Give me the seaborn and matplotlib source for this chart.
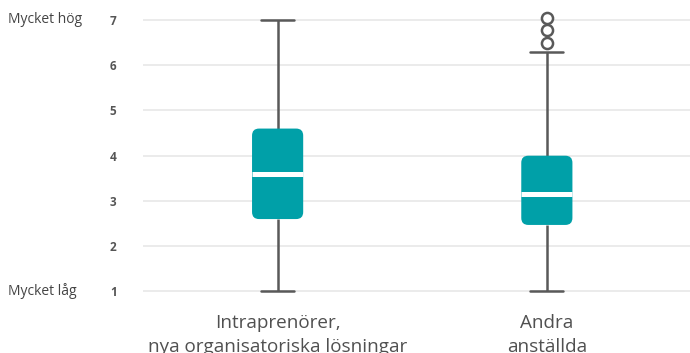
import numpy as np
import pandas as pd
import matplotlib
matplotlib.use("Agg")
import matplotlib.pyplot as plt
import matplotlib.transforms as mtransforms
from matplotlib.patches import FancyBboxPatch
import seaborn as sns

# Values (scale 1-7)
grupper = ["Intraprenörer,\nnya organisatoriska lösningar", "Andra\nanställda"]
min_varde = [1.0, 1.0]
q1 = [2.6, 2.47]
median = [3.6, 3.15]
q3 = [4.6, 4.0]
max_inom = [7.0, 6.3]
avvikare = [[], [6.5, 6.78, 7.05]]

y_ticks = [1, 2, 3, 4, 5, 6, 7]
skala_text = {7: "Mycket hög", 1: "Mycket låg"}

TEAL = "#00A0A8"
LINE = "#595959"

# Build samples whose quartiles (linear interpolation) hit the read values
rows = []
for i, g in enumerate(grupper):
    vals = [min_varde[i]] + [q1[i]] * 4 + [median[i]] * 4 + [q3[i]] * 4 + [max_inom[i]] + avvikare[i]
    for v in vals:
        rows.append({"grupp": g, "varde": v})
df = pd.DataFrame(rows)

sns.set_style("white")
plt.rcParams["font.family"] = ["Open Sans", "DejaVu Sans"]

fig = plt.figure(figsize=(6.9, 3.53), dpi=100)
ax = fig.add_axes([143 / 690, 1 - 300.5 / 353, 560 / 690, 294.1 / 353])

sns.boxplot(
    data=df, x="grupp", y="varde", ax=ax,
    color=TEAL, saturation=1, width=0.19, whis=1.6,
    linecolor=LINE, linewidth=1.8,
    capwidths=0.123,
    boxprops=dict(facecolor=TEAL, edgecolor="none"),
    medianprops=dict(color="white", linewidth=3.6),
    flierprops=dict(marker="o", markersize=8, markerfacecolor="white",
                    markeredgecolor=LINE, markeredgewidth=1.8),
)

ax.set_xlim(-0.5, 1.58)
ax.set_ylim(0.8, 7.3)
ax.set_yticks(y_ticks)
ax.set_xlabel("")
ax.set_ylabel("")
ax.grid(axis="y", color="#e6e6e6", linewidth=1.1)
ax.set_axisbelow(True)
for s in ax.spines.values():
    s.set_visible(False)

# rounded boxes
fig.canvas.draw()
px_x = ax.transData.transform((1, 0))[0] - ax.transData.transform((0, 0))[0]
px_y = ax.transData.transform((0, 1))[1] - ax.transData.transform((0, 0))[1]
r = 7 / px_x
for p in list(ax.patches):
    ext = p.get_path().get_extents()
    fb = FancyBboxPatch((ext.x0, ext.y0), ext.width, ext.height,
                        boxstyle=f"round,pad=0,rounding_size={r}",
                        mutation_aspect=px_x / px_y,
                        facecolor=TEAL, edgecolor="none", zorder=p.get_zorder())
    p.remove()
    ax.add_patch(fb)

ax.tick_params(axis="y", length=0, pad=19, labelsize=8.5, labelcolor="#555555")
for t in ax.get_yticklabels():
    t.set_fontweight("bold")
ax.tick_params(axis="x", length=0, pad=10, labelsize=13.6, labelcolor="#505050")
for t in ax.get_xticklabels():
    t.set_linespacing(1.38)

trans = mtransforms.blended_transform_factory(fig.transFigure, ax.transData)
for v, txt in skala_text.items():
    ax.text(8 / 690, v, txt, transform=trans, ha="left", va="center",
            fontsize=10, color="#444444")

fig.savefig("out.png", dpi=100)
